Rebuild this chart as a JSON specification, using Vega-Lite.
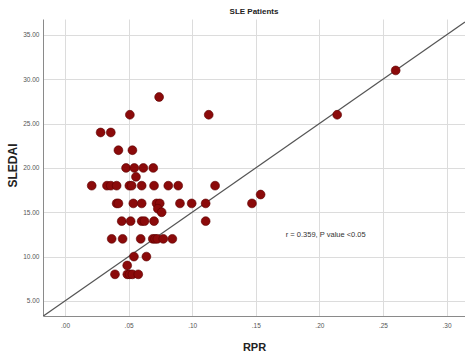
{
  "$schema": "https://vega.github.io/schema/vega-lite/v6.json",
  "autosize": {"type": "none"},
  "padding": {"left": 43, "top": 19, "right": 0, "bottom": 36},
  "width": 422,
  "height": 297,
  "background": "white",
  "title": {"text": "SLE Patients", "fontSize": 8, "font": "Liberation Sans", "fontWeight": "bold", "offset": 3, "color": "#222"},
  "config": {
    "view": {"stroke": null},
    "axis": {
      "grid": true,
      "gridColor": "#dcdcdc",
      "gridWidth": 1,
      "domainColor": "#8a8a8a",
      "ticks": false,
      "labelFont": "Liberation Sans",
      "labelFontSize": 6.5,
      "labelColor": "#555",
      "titleFont": "Liberation Sans",
      "titleFontWeight": "bold",
      "titleColor": "#222"
    }
  },
  "encoding": {
    "x": {
      "field": "RPR", "type": "quantitative",
      "scale": {"domain": [-0.0173, 0.3145], "nice": false, "zero": false},
      "axis": {"values": [0, 0.05, 0.1, 0.15, 0.2, 0.25, 0.3], "labelExpr": "replace(format(datum.value,'.2f'),'0.','.')", "labelPadding": 6, "title": "RPR", "titleFontSize": 11, "titleY": 25, "titleBaseline": "top"}
    },
    "y": {
      "field": "SLEDAI", "type": "quantitative",
      "scale": {"domain": [3.3, 36.8], "nice": false, "zero": false},
      "axis": {"values": [5, 10, 15, 20, 25, 30, 35], "labelExpr": "format(datum.value,'.2f')", "labelPadding": 4, "title": "SLEDAI", "titleFontSize": 12, "titleX": -31, "titleY": 146, "titleAlign": "center", "titleBaseline": "middle", "titleAngle": -90}
    }
  },
  "layer": [
    {
      "data": {"values": [{"RPR": -0.0173, "SLEDAI": 3.27}, {"RPR": 0.3145, "SLEDAI": 36.45}]},
      "mark": {"type": "line", "color": "#555", "strokeWidth": 1.2, "clip": true}
    },
    {
      "data": {"values": [
        {"RPR": 0.26, "SLEDAI": 31}, {"RPR": 0.074, "SLEDAI": 28}, {"RPR": 0.051, "SLEDAI": 26}, {"RPR": 0.113, "SLEDAI": 26}, {"RPR": 0.214, "SLEDAI": 26},
        {"RPR": 0.028, "SLEDAI": 24}, {"RPR": 0.036, "SLEDAI": 24},
        {"RPR": 0.042, "SLEDAI": 22}, {"RPR": 0.053, "SLEDAI": 22},
        {"RPR": 0.048, "SLEDAI": 20}, {"RPR": 0.0545, "SLEDAI": 20}, {"RPR": 0.0616, "SLEDAI": 20}, {"RPR": 0.0694, "SLEDAI": 20},
        {"RPR": 0.0558, "SLEDAI": 19},
        {"RPR": 0.021, "SLEDAI": 18}, {"RPR": 0.033, "SLEDAI": 18}, {"RPR": 0.036, "SLEDAI": 18}, {"RPR": 0.0406, "SLEDAI": 18}, {"RPR": 0.0506, "SLEDAI": 18}, {"RPR": 0.0524, "SLEDAI": 18}, {"RPR": 0.0603, "SLEDAI": 18}, {"RPR": 0.070, "SLEDAI": 18}, {"RPR": 0.0812, "SLEDAI": 18}, {"RPR": 0.089, "SLEDAI": 18}, {"RPR": 0.118, "SLEDAI": 18},
        {"RPR": 0.1538, "SLEDAI": 17},
        {"RPR": 0.0406, "SLEDAI": 16}, {"RPR": 0.042, "SLEDAI": 16}, {"RPR": 0.0537, "SLEDAI": 16}, {"RPR": 0.0603, "SLEDAI": 16}, {"RPR": 0.072, "SLEDAI": 16}, {"RPR": 0.0745, "SLEDAI": 16}, {"RPR": 0.0904, "SLEDAI": 16}, {"RPR": 0.0996, "SLEDAI": 16}, {"RPR": 0.1106, "SLEDAI": 16}, {"RPR": 0.147, "SLEDAI": 16},
        {"RPR": 0.073, "SLEDAI": 15.4}, {"RPR": 0.076, "SLEDAI": 15},
        {"RPR": 0.0446, "SLEDAI": 14}, {"RPR": 0.0516, "SLEDAI": 14}, {"RPR": 0.0603, "SLEDAI": 14}, {"RPR": 0.0625, "SLEDAI": 14}, {"RPR": 0.070, "SLEDAI": 14}, {"RPR": 0.1106, "SLEDAI": 14},
        {"RPR": 0.0367, "SLEDAI": 12}, {"RPR": 0.0453, "SLEDAI": 12}, {"RPR": 0.0595, "SLEDAI": 12}, {"RPR": 0.069, "SLEDAI": 12}, {"RPR": 0.0708, "SLEDAI": 12}, {"RPR": 0.0726, "SLEDAI": 12}, {"RPR": 0.0773, "SLEDAI": 12}, {"RPR": 0.0844, "SLEDAI": 12},
        {"RPR": 0.0542, "SLEDAI": 10}, {"RPR": 0.064, "SLEDAI": 10},
        {"RPR": 0.0489, "SLEDAI": 9},
        {"RPR": 0.0393, "SLEDAI": 8}, {"RPR": 0.049, "SLEDAI": 8}, {"RPR": 0.0508, "SLEDAI": 8}, {"RPR": 0.053, "SLEDAI": 8}, {"RPR": 0.0576, "SLEDAI": 8}
      ]},
      "mark": {"type": "circle", "size": 78, "fill": "#8b0a0a", "opacity": 1, "stroke": "#5a0000", "strokeWidth": 0.6}
    },
    {
      "data": {"values": [{"RPR": 0.205, "SLEDAI": 12.45, "label": "r = 0.359, P value <0.05"}]},
      "mark": {"type": "text", "font": "Liberation Sans", "fontSize": 7.5, "color": "#333", "align": "center", "baseline": "middle"},
      "encoding": {"text": {"field": "label"}}
    }
  ]
}
